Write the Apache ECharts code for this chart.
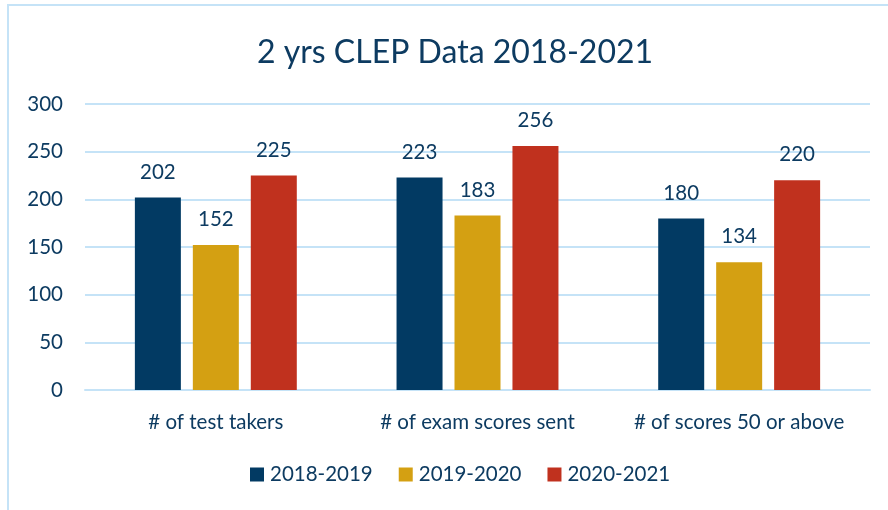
<!DOCTYPE html>
<html>
<head>
<meta charset="utf-8">
<script src="https://cdn.jsdelivr.net/npm/echarts@6/dist/echarts.min.js"></script>
<style>
  html, body { margin: 0; padding: 0; background: #fff; }
  #chart { width: 888px; height: 510px; }
</style>
</head>
<body>
<div id="chart"></div>
<script>
// data
const categories = ['# of test takers', '# of exam scores sent', '# of scores 50 or above']
const seriesNames = ['2018-2019', '2019-2020', '2020-2021']
const values2018 = [202, 223, 180]
const values2019 = [152, 183, 134]
const values2020 = [225, 256, 220]
const yTicks = { min: 0, max: 300, interval: 50 }

const textColor = '#0d3b61'
const colors = ['#023a63', '#d4a012', '#c0311e']
const font = 'Lato, "Open Sans", sans-serif'

const chart = echarts.init(document.getElementById('chart'))

function bar (name, data, color) {
  return {
    name: name,
    type: 'bar',
    data: data,
    barWidth: 46,
    barGap: '26%',
    itemStyle: { color: color },
    label: {
      show: true,
      position: 'top',
      distance: 15,
      color: textColor,
      fontSize: 20.5,
      fontFamily: font
    }
  }
}

const option = {
  animation: false,
  backgroundColor: '#fff',
  color: colors,
  title: {
    text: '2 yrs CLEP Data 2018-2021',
    left: 252,
    top: 32,
    textStyle: { color: textColor, fontSize: 32, fontWeight: 'normal', fontFamily: font }
  },
  graphic: [
    {
      type: 'rect',
      shape: { x: 8, y: 5, width: 900, height: 520 },
      style: { fill: null, stroke: '#c5e3f7', lineWidth: 2 },
      silent: true
    }
  ],
  legend: {
    data: seriesNames,
    bottom: 20,
    left: 245,
    itemWidth: 14,
    itemHeight: 14,
    itemGap: 26,
    icon: 'rect',
    textStyle: { color: textColor, fontSize: 20.5, fontFamily: font, padding: [0, 0, 0, 1] }
  },
  grid: {
    left: 85,
    right: 18,
    top: 104,
    bottom: 120
  },
  xAxis: {
    type: 'category',
    data: categories,
    axisTick: { show: false },
    axisLine: { lineStyle: { color: '#c5e3f7', width: 2 } },
    axisLabel: {
      interval: 0,
      hideOverlap: false,
      color: textColor,
      fontSize: 20.5,
      fontFamily: font,
      margin: 22
    }
  },
  yAxis: {
    type: 'value',
    min: yTicks.min,
    max: yTicks.max,
    interval: yTicks.interval,
    axisLine: { show: false },
    axisTick: { show: false },
    splitLine: { lineStyle: { color: '#c5e3f7', width: 2 } },
    axisLabel: { color: textColor, fontSize: 20.5, fontFamily: font, margin: 22 }
  },
  series: [
    bar(seriesNames[0], values2018, colors[0]),
    bar(seriesNames[1], values2019, colors[1]),
    bar(seriesNames[2], values2020, colors[2])
  ]
}

chart.setOption(option)
</script>
</body>
</html>
